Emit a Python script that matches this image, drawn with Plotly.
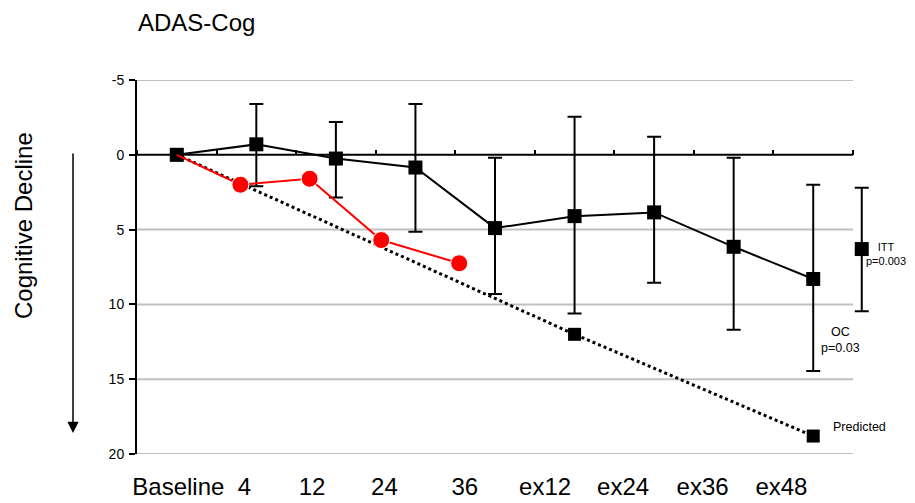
import plotly.graph_objects as go

# ---------------- data ----------------
categories = ["Baseline", "4", "12", "24", "36", "ex12", "ex24", "ex36", "ex48"]
cat_index = [0, 1, 2, 3, 4, 5, 6, 7, 8]

# main (black) series: mean change and error extents
main_vals = [0.0, -0.7, 0.25, 0.85, 4.9, 4.1, 3.85, 6.15, 8.3]
main_err_plus = [0.0, 2.8, 2.6, 4.3, 4.4, 6.5, 4.7, 5.55, 6.15]
main_err_minus = [0.0, 2.7, 2.45, 4.25, 4.7, 6.65, 5.05, 5.95, 6.3]

# ITT point
itt_x = [8.61]
itt_val = [6.3]
itt_err_plus = [4.15]
itt_err_minus = [4.1]

# red series (placed between categories in the original)
red_x = [0.0, 0.80, 1.67, 2.57, 3.55]
red_vals = [0.0, 2.0, 1.6, 5.7, 7.25]

# predicted decline
pred_x = [0, 5, 8]
pred_vals = [0.0, 12.0, 18.8]

# x tick labels (positions as in the original layout)
tick_pos = [0.02, 0.85, 1.70, 2.61, 3.62, 4.63, 5.61, 6.61, 7.60]
tick_text = categories

y_ticks = [-5, 0, 5, 10, 15, 20]
y_tick_text = ["-5", "0", "5", "10", "15", "20"]

# ---------------- layout helpers ----------------
# page body has an 8px margin, so the figure is drawn 8px smaller
OFF = 8
W, H = 915 - OFF, 503 - OFF
CAT_L, CAT_R = 137, 853            # window pixels of the category band
PLOT_L, PLOT_R, PLOT_T, PLOT_B = 137, 905, 80, 454   # window pixels of plot area
L, T = PLOT_L - OFF, PLOT_T - OFF
R = W - (PLOT_R - OFF)
B = H - (PLOT_B - OFF)
PW, PH = PLOT_R - PLOT_L, PLOT_B - PLOT_T
n_cat = len(categories)
unit = (CAT_R - CAT_L) / n_cat
x_lo = -0.5
x_band_hi = x_lo + n_cat
x_hi = x_lo + PW / unit


def px(x):
    return (x - PLOT_L) / PW


def py(y):
    return (PLOT_B - y) / PH


FONT = "Liberation Sans, Arial, sans-serif"

fig = go.Figure()

# gridlines and zero line limited to the category band
for v in y_ticks:
    fig.add_shape(type="line", xref="x", yref="y", x0=x_lo, x1=x_band_hi, y0=v, y1=v,
                  line=dict(color="black" if v == 0 else "#c0c0c0", width=2),
                  layer="below")

fig.add_trace(go.Scatter(
    x=pred_x, y=pred_vals, mode="lines+markers",
    line=dict(color="black", width=3, dash="dot"),
    marker=dict(symbol="square", size=13, color="black", opacity=1),
    showlegend=False,
))

fig.add_trace(go.Scatter(
    x=cat_index, y=main_vals, mode="lines+markers",
    line=dict(color="black", width=2),
    marker=dict(symbol="square", size=14, color="black", opacity=1),
    error_y=dict(type="data", symmetric=False, array=main_err_plus,
                 arrayminus=main_err_minus, color="black", thickness=2, width=7),
    showlegend=False,
))

fig.add_trace(go.Scatter(
    x=itt_x, y=itt_val, mode="markers",
    marker=dict(symbol="square", size=14, color="black", opacity=1),
    error_y=dict(type="data", symmetric=False, array=itt_err_plus,
                 arrayminus=itt_err_minus, color="black", thickness=2, width=7),
    showlegend=False,
))

fig.add_trace(go.Scatter(
    x=red_x, y=red_vals, mode="lines+markers",
    line=dict(color="#ff0000", width=2),
    marker=dict(symbol="circle", size=[0, 17, 17, 17, 17], color="#ff0000", opacity=1),
    showlegend=False,
))

# dummy trace on the overlay axis so it renders ticks on the zero line
fig.add_trace(go.Scatter(x=[None], y=[None], xaxis="x2", showlegend=False))

fig.update_layout(
    width=W, height=H,
    margin=dict(l=L, r=R, t=T, b=B, autoexpand=False),
    paper_bgcolor="white", plot_bgcolor="white",
    font=dict(family=FONT, color="black"),
    xaxis=dict(
        range=[x_lo, x_hi], showgrid=False, zeroline=False, showline=False,
        automargin=False,
        tickmode="array", tickvals=tick_pos, ticktext=tick_text,
        ticks="outside", ticklen=11, tickcolor="rgba(0,0,0,0)",
        tickfont=dict(size=24, family=FONT, color="black"),
    ),
    xaxis2=dict(
        range=[x_lo, x_hi], overlaying="x", anchor="free", position=0.8,
        side="top", showgrid=False, zeroline=False, showline=False,
        automargin=False,
        tickmode="array", tickvals=[x_lo + i for i in range(n_cat + 1)],
        ticks="outside", ticklen=5, tickwidth=2, tickcolor="black",
        showticklabels=False,
    ),
    yaxis=dict(
        range=[20, -5], tickmode="array", tickvals=y_ticks, ticktext=y_tick_text,
        showgrid=False, zeroline=False, automargin=False,
        showline=True, linecolor="black", linewidth=2,
        ticks="outside", ticklen=6, tickwidth=2, tickcolor="black",
        ticklabelstandoff=2,
        tickfont=dict(size=14, family=FONT, color="black"),
    ),
    annotations=[
        dict(text="ADAS-Cog", x=px(136), y=py(22), xref="paper", yref="paper",
             xanchor="left", yanchor="middle", showarrow=False,
             font=dict(size=24, family=FONT, color="black")),
        dict(text="Cognitive Decline", x=px(23), y=py(226), xref="paper", yref="paper",
             xanchor="center", yanchor="middle", textangle=-90, showarrow=False,
             font=dict(size=24, family=FONT, color="black")),
        dict(text="", x=px(73), y=py(433), xref="paper", yref="paper",
             showarrow=True, ax=0, ay=-281, arrowhead=2, arrowsize=1.5,
             arrowwidth=1.5, arrowcolor="black"),
        dict(text="ITT<br>p=0.003", x=px(886), y=py(254), xref="paper", yref="paper",
             xanchor="center", yanchor="middle", showarrow=False,
             font=dict(size=11, family=FONT, color="black")),
        dict(text="OC<br>p=0.03", x=px(840), y=py(340), xref="paper", yref="paper",
             xanchor="center", yanchor="middle", showarrow=False,
             font=dict(size=12.5, family=FONT, color="black")),
        dict(text="Predicted", x=px(831), y=py(427), xref="paper", yref="paper",
             xanchor="left", yanchor="middle", showarrow=False,
             font=dict(size=12.5, family=FONT, color="black")),
    ],
)

fig.write_html("out.html")
